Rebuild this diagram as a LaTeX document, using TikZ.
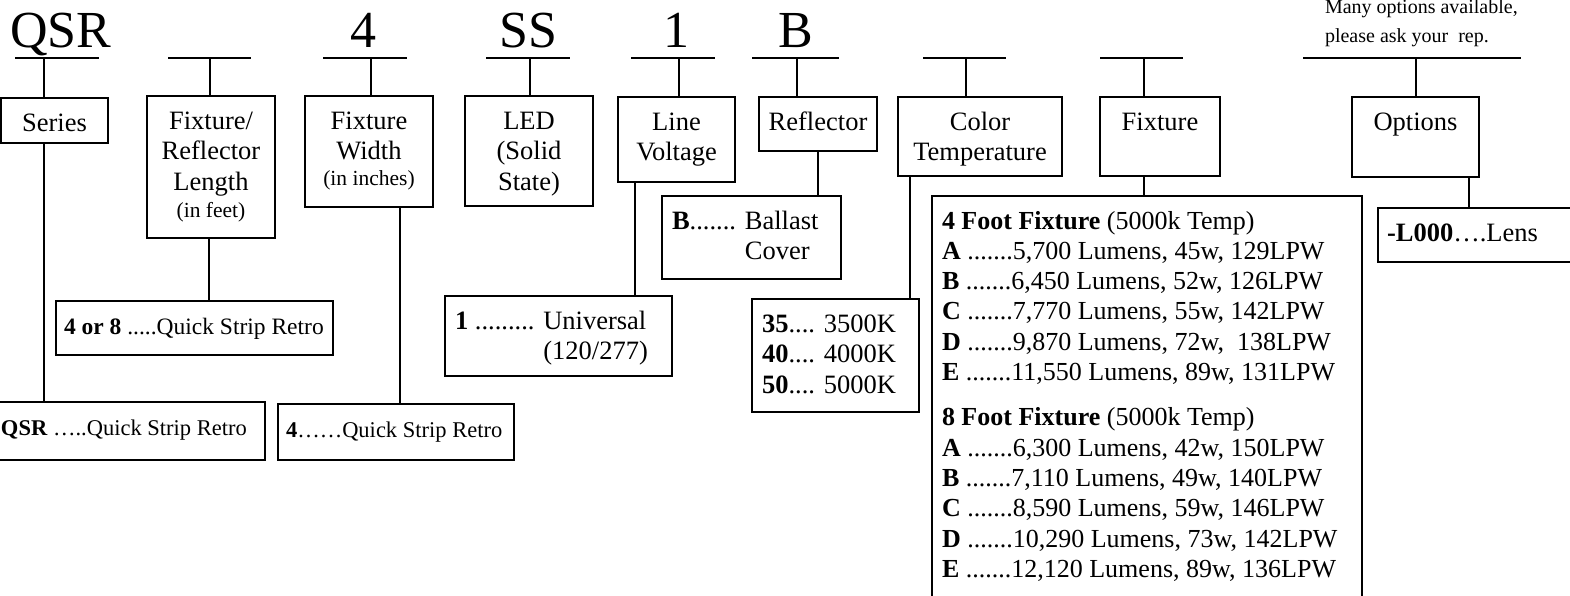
\documentclass[tikz,border=0pt]{standalone}
\usepackage{fontspec}
\setmainfont{Liberation Serif}
\newcommand{\headText}[3]{\parbox[t][#2][t]{#1}{\centering\rule{0pt}{33pt}#3}}
\newcommand{\valText}[4]{\parbox[t][#2][t]{#1}{\raggedright\leftskip=#3\rule{0pt}{33pt}#4}}
\newcommand{\smallText}[1]{{\fontsize{21.5}{26}\selectfont #1}}
\newcommand{\lineWidth}[0]{2pt}

\begin{document}
\begin{tikzpicture}[x=1pt, y=-1pt, line width=\lineWidth]
  \tikzset{every node/.style={inner sep=0pt, outer sep=0pt},
    headbox/.style={draw, anchor=north west, font={\fontsize{26.5}{30.5}\selectfont}},
    valbox/.style={draw, anchor=north west, font={\fontsize{26.5}{30.5}\selectfont}},
    stripbox/.style={valbox, font={\fontsize{22.5}{27}\selectfont}},
    code/.style={anchor=base, font={\fontsize{52}{60}\selectfont}},
    blank/.style={minimum height=0pt}}
  \useasboundingbox (0,0) rectangle (1570,595);
  \clip (0,0) rectangle (1570,595);
  % part number
  \node[code] (Code-1) at (61,47) {QSR};
  \node[code] (Code-3) at (363,47) {4};
  \node[code] (Code-4) at (528,47) {SS};
  \node[code] (Code-5) at (676,47) {1};
  \node[code] (Code-6) at (796,47) {B};
  \node[anchor=north west, font={\fontsize{20}{29}\selectfont}] (Note) at (1325,0)
    {\parbox[t]{240pt}{\rule{0pt}{13pt}Many options available,\\please ask your~ rep.}};
  \node[blank, minimum width=84pt] (Blank-1) at (57,58) {};
  \node[blank, minimum width=83pt] (Blank-2) at (209.5,58) {};
  \node[blank, minimum width=84pt] (Blank-3) at (365,58) {};
  \node[blank, minimum width=84pt] (Blank-4) at (528,58) {};
  \node[blank, minimum width=84pt] (Blank-5) at (673,58) {};
  \node[blank, minimum width=87pt] (Blank-6) at (795.5,58) {};
  \node[blank, minimum width=83pt] (Blank-7) at (964.5,58) {};
  \node[blank, minimum width=83pt] (Blank-8) at (1141.5,58) {};
  \node[blank, minimum width=218pt] (Blank-9) at (1412,58) {};
  % headings
  \node[headbox] (Box-1) at (1,98) {\headText{107pt}{45pt}{Series}};
  \node[headbox] (Box-2) at (147,96) {\headText{128pt}{142pt}{Fixture/\\Reflector\\Length\\[-3pt]\smallText{(in feet)}}};
  \node[headbox] (Box-3) at (305,96) {\headText{128pt}{111pt}{Fixture\\Width\\[-5pt]\smallText{(in inches)}}};
  \node[headbox] (Box-4) at (465,96) {\headText{128pt}{110pt}{LED\\(Solid\\State)}};
  \node[headbox] (Box-5) at (618,97) {\headText{117pt}{85pt}{Line\\Voltage}};
  \node[headbox] (Box-6) at (759,97) {\headText{118pt}{54pt}{Reflector}};
  \node[headbox] (Box-7) at (898,97) {\headText{164pt}{79pt}{Color\\Temperature}};
  \node[headbox] (Box-8) at (1100,97) {\headText{120pt}{79pt}{Fixture}};
  \node[headbox] (Box-9) at (1352,97) {\headText{127pt}{80pt}{Options}};
  % choices
  \node[stripbox] (Val-1) at (-7,402) {\valText{272pt}{58pt}{8pt}{\textbf{QSR} …..Quick Strip Retro}};
  \node[stripbox, font={\fontsize{23.5}{27}\selectfont}] (Val-2) at (56,301) {\valText{277pt}{54pt}{8pt}{\textbf{4 or 8} .....Quick Strip Retro}};
  \node[stripbox] (Val-3) at (278,404) {\valText{236pt}{56pt}{8pt}{\textbf{4}……Quick Strip Retro}};
  \node[valbox] (Val-5) at (445,296) {\valText{227pt}{80pt}{10pt}{\textbf{1} ......... Universal\\\phantom{\textbf{1} ......... }(120/277)}};
  \node[valbox] (Val-6) at (662,196) {\valText{179pt}{83pt}{10pt}{\textbf{B}....... Ballast\\\phantom{\textbf{B}....... }Cover}};
  \node[valbox] (Val-7) at (752,299) {\valText{167pt}{113pt}{10pt}{\textbf{35}.... 3500K\\\textbf{40}.... 4000K\\\textbf{50}.... 5000K}};
  \node[valbox, font={\fontsize{26}{30.3}\selectfont}] (Val-8) at (932,196) {\valText{430pt}{420pt}{10pt}{%
    \textbf{4 Foot Fixture} (5000k Temp)\\
    \textbf{A} .......5,700 Lumens, 45w, 129LPW\\
    \textbf{B} .......6,450 Lumens, 52w, 126LPW\\
    \textbf{C} .......7,770 Lumens, 55w, 142LPW\\
    \textbf{D} .......9,870 Lumens, 72w,~ 138LPW\\
    \textbf{E} .......11,550 Lumens, 89w, 131LPW\\[15pt]
    \textbf{8 Foot Fixture} (5000k Temp)\\
    \textbf{A} .......6,300 Lumens, 42w, 150LPW\\
    \textbf{B} .......7,110 Lumens, 49w, 140LPW\\
    \textbf{C} .......8,590 Lumens, 59w, 146LPW\\
    \textbf{D} .......10,290 Lumens, 73w, 142LPW\\
    \textbf{E} .......12,120 Lumens, 89w, 136LPW}};
  \node[valbox] (Val-9) at (1378,208) {\valText{220pt}{54pt}{9pt}{\textbf{-L000}….Lens}};
  % blanks
  \draw (Blank-1.west) -- (Blank-1.east);
  \draw (Blank-2.west) -- (Blank-2.east);
  \draw (Blank-3.west) -- (Blank-3.east);
  \draw (Blank-4.west) -- (Blank-4.east);
  \draw (Blank-5.west) -- (Blank-5.east);
  \draw (Blank-6.west) -- (Blank-6.east);
  \draw (Blank-7.west) -- (Blank-7.east);
  \draw (Blank-8.west) -- (Blank-8.east);
  \draw (Blank-9.west) -- (Blank-9.east);
  % blank to heading
  \draw ([xshift=-13pt]Blank-1.center) -- ([xshift=-13pt]Blank-1.center |- Box-1.north);
  \draw (Blank-2.center) -- (Blank-2.center |- Box-2.north);
  \draw ([xshift=6pt]Blank-3.center) -- ([xshift=6pt]Blank-3.center |- Box-3.north);
  \draw ([xshift=2pt]Blank-4.center) -- ([xshift=2pt]Blank-4.center |- Box-4.north);
  \draw ([xshift=6pt]Blank-5.center) -- ([xshift=6pt]Blank-5.center |- Box-5.north);
  \draw ([xshift=1.5pt]Blank-6.center) -- ([xshift=1.5pt]Blank-6.center |- Box-6.north);
  \draw ([xshift=1.5pt]Blank-7.center) -- ([xshift=1.5pt]Blank-7.center |- Box-7.north);
  \draw ([xshift=2.5pt]Blank-8.center) -- ([xshift=2.5pt]Blank-8.center |- Box-8.north);
  \draw ([xshift=4pt]Blank-9.center) -- ([xshift=4pt]Blank-9.center |- Box-9.north);
  % heading to choices
  \draw ([xshift=43pt]Box-1.south west) -- ([xshift=43pt]Box-1.south west |- Val-1.north);
  \draw ([xshift=62pt]Box-2.south west) -- ([xshift=62pt]Box-2.south west |- Val-2.north);
  \draw ([xshift=95pt]Box-3.south west) -- ([xshift=95pt]Box-3.south west |- Val-3.north);
  \draw ([xshift=17pt]Box-5.south west) -- ([xshift=17pt]Box-5.south west |- Val-5.north);
  \draw (Box-6.south) -- (Box-6.south |- Val-6.north);
  \draw ([xshift=12pt]Box-7.south west) -- ([xshift=12pt]Box-7.south west |- Val-7.north);
  \draw ([xshift=44pt]Box-8.south west) -- ([xshift=44pt]Box-8.south west |- Val-8.north);
  \draw ([xshift=117pt]Box-9.south west) -- ([xshift=117pt]Box-9.south west |- Val-9.north);
\end{tikzpicture}
\end{document}
